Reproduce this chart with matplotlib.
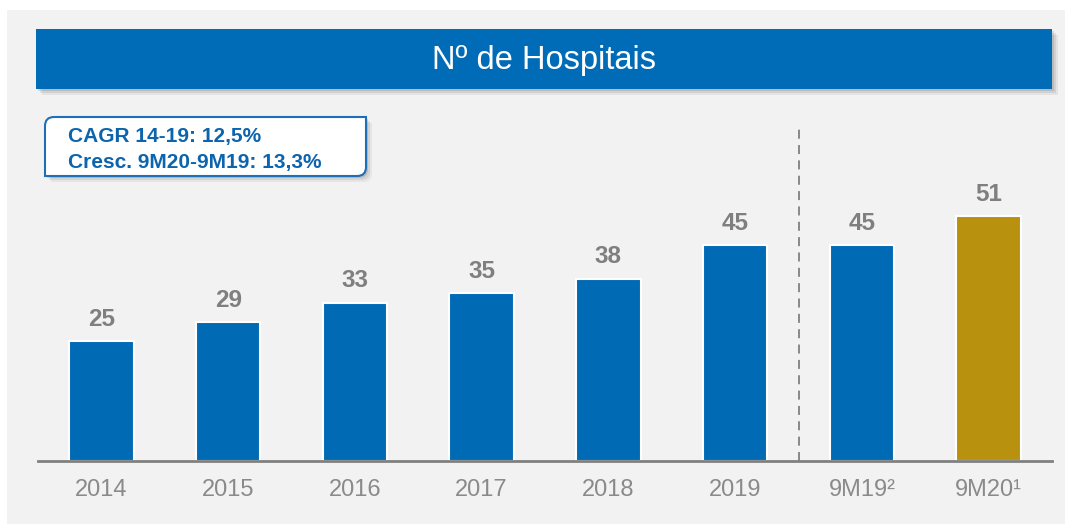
import matplotlib.pyplot as plt
from matplotlib.patches import Rectangle, PathPatch
from matplotlib.path import Path
import numpy as np

plt.rcParams['font.family'] = ['Liberation Sans', 'DejaVu Sans']

# data
categories = ['2014', '2015', '2016', '2017', '2018', '2019', '9M19²', '9M20¹']
hospitals = [25, 29, 33, 35, 38, 45, 45, 51]
bar_colors = ['#006ab5'] * 7 + ['#b8910f']
title = 'Nº de Hospitais'
note_lines = ['CAGR 14-19: 12,5%', 'Cresc. 9M20-9M19: 13,3%']

W, H = 1065, 524
fig = plt.figure(figsize=(W / 100, H / 100), dpi=100, facecolor='white')

def fx(px):
    return px / W

def fy(py):
    return 1 - py / H

def diag_round_box(x0, y0, x1, y1, r):
    # pixel coords (y down): top-left and bottom-right corners rounded
    pts = [(x0 + r, y0), (x1, y0), (x1, y1 - r), (x1, y1), (x1 - r, y1),
           (x0, y1), (x0, y0 + r), (x0, y0), (x0 + r, y0)]
    codes = [Path.MOVETO, Path.LINETO, Path.LINETO, Path.CURVE3, Path.CURVE3,
             Path.LINETO, Path.LINETO, Path.CURVE3, Path.CURVE3]
    return Path([(fx(a), fy(b)) for a, b in pts], codes)

# light grey panel behind everything
fig.patches.append(Rectangle((fx(7), 0), 1 - fx(7), fy(10), transform=fig.transFigure,
                             facecolor='#f2f2f2', edgecolor='none', zorder=0))

# title bar with a soft shadow
for i, a in enumerate([0.10, 0.08, 0.06]):
    off = 2 + i * 2
    fig.patches.append(Rectangle((fx(36 + off), fy(89 + off)), fx(1016), 60 / H,
                                 transform=fig.transFigure, facecolor='black',
                                 edgecolor='none', alpha=a, zorder=1))
fig.patches.append(Rectangle((fx(36), fy(89)), fx(1016), 60 / H, transform=fig.transFigure,
                             facecolor='#006bb6', edgecolor='none', zorder=2))
fig.text(fx(544), fy(60), title, color='white', fontsize=23.5, ha='center', va='center', zorder=3)

# note box
for i, a in enumerate([0.12, 0.08, 0.05]):
    off = 2 + i * 2
    fig.patches.append(PathPatch(diag_round_box(45 + off, 117 + off, 366 + off, 176 + off, 9),
                                 transform=fig.transFigure, facecolor='black',
                                 edgecolor='none', alpha=a, zorder=1))
fig.patches.append(PathPatch(diag_round_box(45, 117, 366, 176, 9), transform=fig.transFigure,
                             facecolor='white', edgecolor='#1f6fb8', linewidth=1.5, zorder=2))
fig.text(fx(68), fy(142), note_lines[0], color='#0b64ad', fontsize=15,
         fontweight='bold', ha='left', va='baseline', zorder=3)
fig.text(fx(68), fy(168), note_lines[1], color='#0b64ad', fontsize=15,
         fontweight='bold', ha='left', va='baseline', zorder=3)

# bar chart
ax = fig.add_axes([fx(38), fy(461), fx(1014), 333 / H])
ax.set_zorder(5)
ax.set_facecolor('none')
x = np.arange(len(categories))
bars = ax.bar(x, hospitals, width=0.51, color=bar_colors, edgecolor='white', linewidth=1.5, zorder=2)
ax.set_xlim(-0.5, len(categories) - 0.5)
ax.set_ylim(0, 69.4)

for b, v in zip(bars, hospitals):
    ax.annotate(str(v), (b.get_x() + b.get_width() / 2, v), xytext=(0, 11),
                textcoords='offset points', ha='center', va='baseline',
                fontsize=17.5, fontweight='bold', color='#7f7f7f')

ax.axvline(5.5, color='#808080', linestyle=(0, (5, 3.5)), linewidth=1.3, zorder=1)

ax.set_xticks(x)
ax.set_xticklabels(categories, fontsize=17, color='#8a8a8a')
ax.tick_params(axis='x', length=0, pad=13)
ax.set_yticks([])
for s in ['top', 'right', 'left']:
    ax.spines[s].set_visible(False)
ax.spines['bottom'].set_color('#808080')
ax.spines['bottom'].set_linewidth(2)

fig.savefig('out.png', dpi=100)
